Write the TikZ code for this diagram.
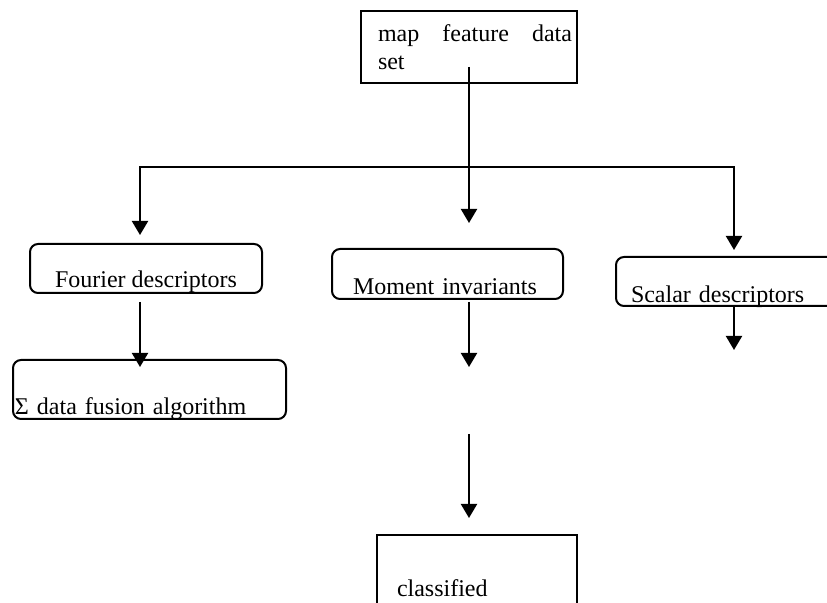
\documentclass[tikz,border=0pt]{standalone}
\usepackage{fontspec}
\setmainfont{Liberation Serif}
\usetikzlibrary{arrows.meta}

\begin{document}
\begin{tikzpicture}[x=0.5pt,y=-0.5pt,line width=1pt,
        box/.style={draw, anchor=north west, inner ysep=0pt, outer sep=0pt, font=\fontsize{12}{13.8}\selectfont},
        roundbox/.style={box, rounded corners=4pt},
        arr/.style={-{Triangle[length=7pt,width=8pt]}}]
        \clip (0,0) rectangle (827,603);
        % boxes
        \node[box, text width=103pt, inner xsep=2.5pt, minimum height=36pt, align=left] (mapset) at (361,11) {\hspace*{6pt}map\hfill feature\hfill data\\\hspace*{6pt}set};
        \node[roundbox, minimum width=116pt, inner xsep=0pt, text height=22pt, text depth=2.5pt] (fourier) at (30,244) {Fourier descriptors};
        \node[roundbox, text width=134.5pt, inner xsep=1pt, text height=27.5pt, text depth=2pt, align=left] (fusion) at (13,360) {Σ data fusion algorithm};
        \node[roundbox, text width=94.5pt, inner xsep=10.5pt, text height=23pt, text depth=2pt, align=left] (moment) at (332,249) {Moment invariants};
        \node[roundbox, text width=115pt, inner xsep=7.5pt, text height=23pt, text depth=1.5pt, align=left] (scalar) at (616,257) {Scalar descriptors};
        \node[box, text width=80pt, inner xsep=10pt, text height=31pt, text depth=20pt, align=left] (classified) at (377,535) {classified};
        % connectors
        \coordinate (split) at (469,167);
        \coordinate (leftturn) at (140,167);
        \coordinate (rightturn) at (734,167);
        \coordinate (midtip) at (469,223);
        \coordinate (lefttip) at (140,235);
        \coordinate (righttip) at (734,250);
        \coordinate (fourierout) at (140,302);
        \coordinate (fusionin) at (140,367);
        \coordinate (momentout) at (469,302);
        \coordinate (momenttip) at (469,367);
        \coordinate (classtail) at (469,434);
        \coordinate (classtip) at (469,518);
        \coordinate (scalarout) at (734,306);
        \coordinate (scalartip) at (734,350);
        \draw ([yshift=8pt]mapset.south) -- (split);
        \draw[{Triangle[length=7pt,width=8pt]}-{Triangle[length=7pt,width=8pt]}] (lefttip) -- (leftturn) -- (rightturn) -- (righttip);
        \draw[arr] (split) -- (midtip);
        \draw[arr] (fourierout) -- (fusionin);
        \draw[arr] (momentout) -- (momenttip);
        \draw[arr] (classtail) -- (classtip);
        \draw[arr] (scalarout) -- (scalartip);
    \end{tikzpicture}
\end{document}
